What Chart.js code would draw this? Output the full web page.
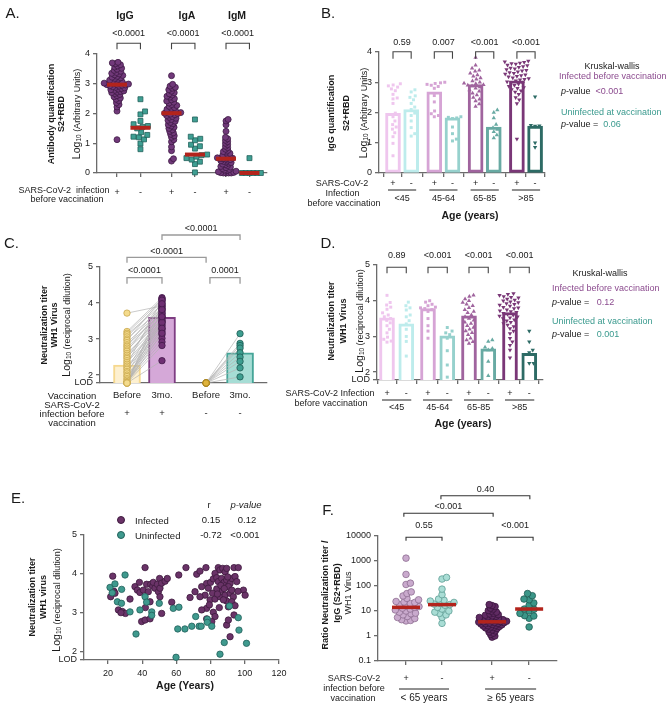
<!DOCTYPE html>
<html>
<head>
<meta charset="utf-8">
<script src="https://cdn.jsdelivr.net/npm/chart.js@4.4.1/dist/chart.umd.min.js"></script>
<style>
  html, body { margin: 0; padding: 0; background: #fff; }
  body { position: relative; width: 666px; height: 704px; overflow: hidden;
         font-family: "Liberation Sans", Arial, sans-serif; color: #1a1a1a; }
  canvas { position: absolute; }
  .t { position: absolute; white-space: nowrap; font-size: 9px; line-height: 1; transform: translate(-50%, -50%); }
  .b { font-weight: bold; }
  .l { transform: translate(0, -50%); }
  .yt { transform: translate(-50%, -50%) rotate(-90deg); }
  .letter { font-size: 15px; }
  .big { font-size: 10.5px; }
  .m { font-size: 9.5px; }
  .lg { font-size: 9px; }
  .pu { color: #8b4a8e; }
  .te { color: #3a9a8e; }
  sub { font-size: 6.5px; vertical-align: -1px; line-height: 0; }
  .dot { display: inline-block; width: 6px; height: 6px; border-radius: 50%; }
</style>
</head>
<body>
<canvas id="cA"></canvas>
<canvas id="cB"></canvas>
<canvas id="cC"></canvas>
<canvas id="cD"></canvas>
<canvas id="cE"></canvas>
<canvas id="cF"></canvas>
<script>
// ---------------- data ----------------
// A: antibody quantification, log10 AU
const signsA = ['+', '-', '+', '-', '+', '-'];
const pA = ['<0.0001', '<0.0001', '<0.0001'];
const iggPos = [3.72, 3.7, 3.67, 3.64, 3.6, 3.56, 3.52, 3.49, 3.45, 3.42, 3.38, 3.35, 3.33, 3.3, 3.28, 3.25, 3.22, 3.2, 3.18,
  3.15, 3.12, 3.1, 3.08, 3.06, 3.04, 3.02, 3.0, 2.99, 2.98, 2.97, 2.96, 2.95, 2.93, 2.92, 2.9, 2.88, 2.86, 2.84, 2.82, 2.8,
  2.78, 2.76, 2.74, 2.72, 2.7, 2.67, 2.64, 2.6, 2.56, 2.52, 2.48, 2.43, 2.36, 2.3, 2.22, 2.08, 1.12];
const iggNeg = [2.48, 2.07, 1.97, 1.75, 1.64, 1.58, 1.55, 1.5, 1.37, 1.28, 1.22, 1.2, 1.13, 0.99, 0.8];
const igaPos = [3.27, 2.98, 2.92, 2.88, 2.85, 2.8, 2.75, 2.7, 2.66, 2.62, 2.58, 2.55, 2.5, 2.46, 2.42, 2.38, 2.35, 2.3, 2.27,
  2.24, 2.2, 2.17, 2.14, 2.1, 2.08, 2.05, 2.03, 2.01, 2.0, 1.98, 1.96, 1.93, 1.9, 1.87, 1.84, 1.8, 1.77, 1.74, 1.7, 1.66,
  1.62, 1.58, 1.54, 1.5, 1.45, 1.4, 1.35, 1.3, 1.25, 1.2, 1.12, 1.05, 0.88, 0.75, 0.48, 0.4];
const igaNeg = [1.8, 1.22, 1.15, 1.1, 0.95, 0.9, 0.82, 0.62, 0.6, 0.55, 0.5, 0.45, 0.38, 0.3, 0.02];
const igmPos = [1.8, 1.75, 1.62, 1.4, 1.2, 1.15, 1.1, 1.05, 1.0, 0.95, 0.9, 0.85, 0.8, 0.76, 0.72, 0.7, 0.66, 0.63, 0.6,
  0.58, 0.55, 0.53, 0.51, 0.5, 0.49, 0.48, 0.47, 0.45, 0.43, 0.41, 0.39, 0.37, 0.35, 0.33, 0.3, 0.28, 0.25, 0.22, 0.2,
  0.18, 0.15, 0.12, 0.1, 0.08, 0.06, 0.04, 0.02, 0.01, 0, 0, 0, 0];
const igmNeg = [0.5, 0, 0, 0, 0, 0, 0];
const mediansA = [2.97, 1.52, 2.01, 0.62, 0.48, 0.0];

// B: IgG by age group
const agesB = ['<45', '45-64', '65-85', '>85'];
const signsB = ['+', '-', '+', '-', '+', '-', '+', '-'];
const pB = ['0.59', '0.007', '<0.001', '<0.001'];
const barsB = [1.97, 2.1, 2.68, 1.82, 2.92, 1.52, 3.05, 1.55];
const b45p = [2.95, 2.91, 2.88, 2.84, 2.78, 2.72, 2.6, 2.48, 2.45, 2.3, 1.98, 1.86, 1.72, 1.6, 1.52, 1.45, 1.33, 1.2, 0.98, 0.57];
const b45n = [2.75, 2.68, 2.55, 2.5, 2.42, 2.3, 2.18, 2.1, 1.98, 1.9, 1.72, 1.5, 1.3, 1.22];
const b4564p = [3.0, 2.98, 2.96, 2.93, 2.9, 2.86, 2.8, 2.56, 2.35, 2.05, 1.96, 1.9, 1.86];
const b4564n = [1.86, 1.84, 1.82, 1.8, 1.52, 1.3, 1.12, 1.06];
const b6585p = [3.82, 3.56, 3.46, 3.4, 3.36, 3.3, 3.24, 3.2, 3.14, 3.1, 3.04, 3.0, 2.97, 2.95, 2.92, 2.9, 2.88, 2.84,
  2.8, 2.74, 2.7, 2.64, 2.58, 2.5, 2.44, 2.38, 2.28, 2.2];
const b6585n = [2.08, 2.0, 1.82, 1.6, 1.5, 1.44, 1.36, 1.26, 1.16];
const b85p = [3.7, 3.68, 3.66, 3.64, 3.62, 3.6, 3.57, 3.55, 3.52, 3.5, 3.47, 3.45, 3.42, 3.4, 3.38, 3.35, 3.32, 3.3, 3.27,
  3.25, 3.22, 3.2, 3.18, 3.15, 3.12, 3.1, 3.08, 3.05, 3.02, 3.0, 2.97, 2.94, 2.9, 2.87, 2.83, 2.8, 2.76, 2.72, 2.68, 2.6,
  2.5, 2.42, 2.3, 1.12];
const b85n = [2.52, 1.58, 1.56, 1.55, 1.0, 0.85];

// C: paired neutralization before / 3 months
const cTicks = ['Before', '3mo.', 'Before', '3mo.'];
const cSigns = ['+', '+', '-', '-'];
const pC = ['<0.0001', '0.0001', '<0.0001', '<0.0001'];
const barsC = [2.28, 3.6, null, 2.62];
const beforePos = [3.72, 3.21, 3.16, 3.12, 3.06, 3.0, 2.96, 2.9, 2.84, 2.8, 2.75, 2.7, 2.66, 2.6, 2.55, 2.5, 2.46, 2.4,
  2.35, 2.3, 2.25, 2.2, 2.16, 2.1, 2.06, 2.0, 1.96, 1.9, 1.86, 1.82, 1.78, 1.78, 1.78, 1.78, 1.78, 1.78, 1.78, 1.78];
const afterPos = [3.92, 4.15, 4.1, 3.95, 4.05, 3.86, 4.12, 3.8, 3.7, 4.0, 3.76, 3.62, 3.9, 3.55, 3.66, 3.5, 3.84, 3.45,
  3.4, 4.08, 3.36, 3.3, 3.72, 3.26, 3.6, 3.2, 3.12, 3.5, 3.02, 2.92, 3.82, 2.82, 3.46, 3.62, 2.4, 3.3, 3.98, 3.16];
const beforeNeg = [1.78, 1.78, 1.78, 1.78, 1.78, 1.78, 1.78, 1.78, 1.78];
const afterNeg = [3.15, 2.88, 2.82, 2.75, 2.62, 2.5, 2.38, 2.2, 1.95];

// D: neutralization by age group
const pD = ['0.89', '<0.001', '<0.001', '<0.001'];
const barsD = [3.52, 3.35, 3.78, 3.02, 3.58, 2.65, 3.67, 2.53];
const d45p = [4.15, 3.95, 3.88, 3.82, 3.76, 3.66, 3.6, 3.55, 3.5, 3.45, 3.38, 3.3, 3.2, 3.1, 2.98, 2.92, 2.87, 2.84];
const d45n = [3.96, 3.86, 3.8, 3.74, 3.6, 3.55, 3.44, 3.35, 3.2, 3.0, 2.86, 2.45];
const d4564p = [4.0, 3.96, 3.9, 3.86, 3.82, 3.8, 3.78, 3.75, 3.7, 3.5, 3.3, 3.15, 2.95];
const d4564n = [3.25, 3.15, 3.1, 3.05, 2.95, 2.6, 2.2, 1.86];
const d6585p = [4.15, 4.12, 4.05, 4.0, 3.95, 3.9, 3.86, 3.8, 3.75, 3.7, 3.66, 3.6, 3.55, 3.5, 3.45, 3.4, 3.36, 3.3,
  3.25, 3.2, 3.15, 3.1, 3.05, 2.95, 2.9, 2.85, 2.8];
const d6585n = [2.9, 2.86, 2.7, 2.66, 2.62, 2.3, 1.9];
const d85p = [4.2, 4.18, 4.15, 4.12, 4.1, 4.08, 4.05, 4.02, 4.0, 3.97, 3.95, 3.92, 3.9, 3.88, 3.85, 3.82, 3.8, 3.78,
  3.75, 3.72, 3.7, 3.68, 3.65, 3.62, 3.6, 3.57, 3.55, 3.52, 3.5, 3.47, 3.44, 3.4, 3.36, 3.32, 3.28, 3.22, 3.15, 3.08,
  2.95, 2.85, 2.75, 2.62, 2.4];
const d85n = [3.15, 2.85, 2.62, 2.55, 2.25, 2.25];

// shared y ticks for neutralization panels
const lodTicks = [1.78, 2, 3, 4, 5];
const lodLabels = ['LOD', '2', '3', '4', '5'];

// E: age vs neutralization [age, log10 titer]
const ageTicks = [20, 40, 60, 80, 100, 120];
const infected = [[22.8, 3.94], [21.6, 3.41], [23.5, 3.55], [24.1, 3.5], [26.1, 3.07], [28.4, 3.03], [30.2, 2.98],
  [32.9, 3.35], [27.6, 3.0], [35.8, 3.67], [37.2, 3.58], [38.4, 3.78], [38.7, 3.52], [39.7, 2.77], [40.7, 3.58],
  [41.7, 4.16], [41.7, 2.81], [41.9, 3.13], [42.6, 3.73], [43.6, 3.54], [44.6, 3.28], [44.6, 2.84], [45, 3.73],
  [46.2, 3.68], [46.5, 3.78], [47.5, 3.63], [48.9, 3.73], [49.5, 3.54], [50.2, 3.88], [50.4, 3.63], [50.4, 3.41],
  [51.4, 3.76], [51.4, 2.98], [53.4, 3.81], [54.7, 3.88], [57.3, 3.27], [61.4, 3.97], [65.6, 4.16], [68, 3.39],
  [70.9, 3.54], [71.9, 3.99], [73.8, 4.07], [77.3, 4.16], [74.8, 3.67], [77.7, 3.75], [78.7, 3.63], [80, 3.78],
  [81.6, 3.87], [82.6, 4.01], [84.5, 4.16], [85.5, 4.1], [87.1, 4.14], [88.5, 4.05], [89.4, 4.14], [93.7, 4.16],
  [96.2, 4.16], [83.6, 3.9], [84.5, 3.8], [86.5, 3.88], [87.9, 3.78], [89.4, 3.84], [91.4, 3.75], [92.4, 3.88],
  [94.3, 3.93], [95.3, 3.8], [90.4, 3.67], [86.5, 3.58], [83.6, 3.61], [81.2, 3.5], [76.8, 3.45], [73.8, 3.41],
  [79.7, 3.33], [82.6, 3.35], [85.5, 3.41], [88.5, 3.45], [91.4, 3.5], [93.3, 3.41], [89.4, 3.3], [92.4, 3.28],
  [94.3, 3.18], [90.4, 3.15], [85.1, 3.13], [81.6, 3.01], [77.7, 3.11], [74.8, 3.07], [82.6, 2.9], [77.7, 2.84],
  [80.7, 2.77], [89.4, 2.68], [90.4, 2.81], [93.7, 2.94], [91.4, 2.38], [99.2, 3.58], [100.2, 3.45], [92.4, 3.58],
  [87.5, 3.33], [79.3, 3.2], [86, 3.7], [88, 3.62], [90, 3.92], [84, 3.48], [96, 3.55]];
const uninfected = [[21.2, 3.65], [24.1, 3.74], [22.5, 3.51], [30, 3.97], [28, 3.6], [25.5, 3.28], [27.9, 3.24],
  [32.9, 3.02], [36.4, 2.45], [38.7, 3.07], [41.7, 3.41], [42.6, 3.27], [45.6, 3.02], [45.6, 2.93], [50, 3.24],
  [58.2, 3.11], [61.5, 3.14], [60.8, 2.58], [65, 2.58], [59.8, 1.85], [69, 2.65], [71.3, 2.9], [73.3, 2.65],
  [74.5, 2.65], [78.1, 2.83], [78.1, 2.75], [80.7, 2.65], [85.5, 1.93], [88, 2.23], [91, 3.17], [96.2, 2.87],
  [96.6, 2.55], [101, 2.21]];

// F: ratio neutralization / IgG
const signsF = ['+', '-', '+', '-'];
const groupsF = ['< 65 years', '≥ 65 years'];
const pF = ['0.55', '<0.001', '<0.001', '0.40'];
const fTicks = [0.1, 1, 10, 100, 1000, 10000];
const fTickLabels = ['0.1', '1', '10', '100', '1000', '10000'];
const f65p = [1300, 290, 130, 115, 58, 50, 40, 32, 28, 24, 23, 22, 20, 18, 16, 15, 14, 13, 12, 11, 10, 9, 8.2, 7.8,
  7, 6, 5.5, 5, 4.5, 4.2, 4];
const f65n = [220, 190, 75, 45, 30, 27, 25, 22, 20, 19, 18, 17, 14, 12, 10, 9, 8, 7, 5.5, 3.2];
const fo65p = [18, 16.5, 15, 13, 12, 10.5, 9.8, 9, 8.2, 7.6, 7.2, 6.8, 6.4, 6.1, 5.8, 5.5, 5.3, 5.1, 4.9, 4.7, 4.5,
  4.4, 4.2, 4.1, 4.0, 3.9, 3.8, 3.7, 3.6, 3.5, 3.4, 3.3, 3.2, 3.1, 3.0, 2.9, 2.8, 2.7, 2.6, 2.5, 2.4, 2.3, 2.2, 2.1,
  2.0, 1.9, 1.75, 1.6, 1.45, 1.3, 1.15, 1.0, 0.9];
const fo65n = [50, 41, 30, 28, 21, 17, 12, 11.7, 10, 8, 6.5, 6.3, 5.1, 2.3];
const mediansF = [14, 18, 3.7, 12];

// ---------------- layout ----------------
const AXIS = '#6b6b6b', RED = '#b3241c';
const PURP = '#71397a', PURP_D = '#3f1b45', TEAL = '#3f9f93', TEAL_D = '#21615a';
const PINK = ['#efc6ee', '#d6a4d5', '#a0649e', '#7a3777'];
const CYAN = ['#bdecec', '#96d1cd', '#68aaa3', '#2d6b65'];

const PA = { box: [0, 0, 330, 230], area: [97, 54, 267, 173], x: [-0.367, 2.752], y: [0, 4] };
const PB = { box: [330, 0, 336, 230], area: [379, 52, 545, 173], x: [-0.339, 3.68], y: [0, 4] };
const PC = { box: [0, 205, 330, 265], area: [100, 267, 267, 383], x: [-0.771, 4.0], y: [1.78, 5] };
const PD = { box: [330, 230, 336, 240], area: [377, 265, 543, 380], x: [-0.244, 3.805], y: [1.78, 5] };
const PE = { box: [0, 480, 330, 224], area: [84, 535, 279, 660], x: [6, 120], y: [1.78, 5] };
const PF = { box: [330, 480, 336, 224], area: [378, 536, 557, 661], x: [-0.778, 4.194], y: [0.1, 10000] };
const slotsA = [0, 0.43, 1, 1.43, 2, 2.43];
const slotsB = [0, 0.44, 1, 1.44, 2, 2.44, 3, 3.44];
const slotsC = [0, 1, 2.26, 3.23];
const slotsD = [0, 0.47, 1, 1.47, 2, 2.47, 3, 3.47];
const slotsF = [0, 1, 2.39, 3.42];

Chart.defaults.font.family = '"Liberation Sans", Arial, sans-serif';
Chart.defaults.font.size = 9;
Chart.defaults.color = '#1a1a1a';

function scaleOf(p) {
  return [(p.area[2] - p.area[0]) / (p.x[1] - p.x[0]), (p.area[3] - p.area[1]) / (p.y[1] - p.y[0])];
}

// simple beeswarm: spreads points sideways so they do not overlap more than d px
function swarm(vals, cx, kx, ky, d, f) {
  f = f || (v => v);
  const placed = [];
  vals.slice().sort((a, b) => a - b).forEach(v => {
    const py = f(v) * ky;
    const near = placed.filter(p => Math.abs(p.py - py) < d);
    const cands = [0];
    near.forEach(p => {
      const dx = Math.sqrt(d * d - (p.py - py) ** 2);
      cands.push(p.px + dx, p.px - dx);
    });
    cands.sort((a, b) => Math.abs(a) - Math.abs(b));
    let px = cands.find(c => near.every(p => (p.px - c) ** 2 + (p.py - py) ** 2 >= d * d - 1e-6));
    if (px === undefined) px = 0;
    placed.push({ px, py, v });
  });
  return placed.map(p => ({ x: cx + p.px / kx, y: p.v }));
}

function column(vals, cx) { return vals.map(v => ({ x: cx, y: v })); }

function dots(points, fill, stroke, r, style, extra) {
  return Object.assign({
    type: 'scatter', data: points, pointBackgroundColor: fill, pointBorderColor: stroke,
    pointBorderWidth: 0.8, pointRadius: r, pointStyle: style || 'circle', clip: false, order: 1
  }, extra || {});
}

function medians(slots, meds, half, w) {
  return {
    type: 'scatter', data: slots.map((x, i) => ({ x, y: meds[i] })), pointStyle: 'line',
    pointRadius: half, pointBorderColor: RED, pointBorderWidth: w, clip: false, order: 0
  };
}

function bars(slots, vals, fills, borders, thick, bw) {
  return {
    type: 'bar', data: slots.map((x, i) => ({ x, y: vals[i] })), backgroundColor: fills,
    borderColor: borders, borderWidth: bw, borderSkipped: false, barThickness: thick, order: 3
  };
}

function baseAxis(extra) {
  const a = {
    border: { color: AXIS, width: 1.3 },
    grid: { drawOnChartArea: false, color: AXIS, lineWidth: 1.3, tickLength: 4 },
    ticks: { color: '#1a1a1a', font: { size: 9 }, autoSkip: false, maxRotation: 0, minRotation: 0, padding: 3 }
  };
  for (const k in extra) {
    const v = extra[k];
    a[k] = (v && typeof v === 'object' && !Array.isArray(v) && a[k]) ? Object.assign({}, a[k], v) : v;
  }
  return a;
}

const slotTicks = slots => s => { s.ticks = slots.map(v => ({ value: v })); };

const marksPlugin = {
  id: 'marks',
  afterDraw(chart, args, o) {
    const ctx = chart.ctx, xs = chart.scales.x, oy = o.oy;
    ctx.save();
    ctx.textAlign = 'center';
    ctx.textBaseline = 'middle';
    ctx.font = '9px "Liberation Sans", Arial, sans-serif';
    (o.brackets || []).forEach(k => {
      const x1 = xs.getPixelForValue(k.a), x2 = xs.getPixelForValue(k.b), y = k.y - oy;
      ctx.strokeStyle = o.color || '#444';
      ctx.lineWidth = o.lw || 1.1;
      ctx.beginPath();
      ctx.moveTo(x1, y + k.d); ctx.lineTo(x1, y); ctx.lineTo(x2, y); ctx.lineTo(x2, y + k.d);
      ctx.stroke();
      ctx.fillStyle = '#1a1a1a';
      ctx.fillText(k.t, (x1 + x2) / 2, k.ly - oy);
    });
    (o.groups || []).forEach(g => {
      const x1 = xs.getPixelForValue(g.a) - g.e, x2 = xs.getPixelForValue(g.b) + g.e, y = g.y - oy;
      ctx.strokeStyle = '#222';
      ctx.lineWidth = 1;
      ctx.beginPath(); ctx.moveTo(x1, y); ctx.lineTo(x2, y); ctx.stroke();
      ctx.fillStyle = '#1a1a1a';
      ctx.font = (g.size || 9) + 'px "Liberation Sans", Arial, sans-serif';
      ctx.fillText(g.t, (x1 + x2) / 2, g.ly - oy);
    });
    ctx.restore();
  }
};

function makeChart(id, p, datasets, xAxis, yAxis, marks) {
  const [bx, by, bw, bh] = p.box, [l, t, r, b] = p.area;
  const cv = document.getElementById(id);
  cv.width = bw; cv.height = bh;
  cv.style.left = bx + 'px'; cv.style.top = by + 'px';
  xAxis.afterFit = s => { s.height = by + bh - b; };
  yAxis.afterFit = s => { s.width = l - bx; };
  return new Chart(cv, {
    type: 'scatter',
    data: { datasets },
    options: {
      responsive: false, animation: false, events: [], devicePixelRatio: 1,
      layout: { padding: { left: 0, top: t - by, right: bx + bw - r, bottom: 0 } },
      plugins: { legend: { display: false }, tooltip: { enabled: false }, marks: Object.assign({ oy: by }, marks) },
      scales: { x: xAxis, y: yAxis }
    },
    plugins: [marksPlugin]
  });
}

// ---------------- A ----------------
(function () {
  const [kx, ky] = scaleOf(PA);
  const vals = [iggPos, iggNeg, igaPos, igaNeg, igmPos, igmNeg];
  const spread = [3.1, 5.5, 3.1, 5.5, 2.6, 3.8];
  const ds = vals.map((v, i) => i % 2
    ? dots(swarm(v, slotsA[i], kx, ky, spread[i]), TEAL, TEAL_D, 3.5, 'rect')
    : dots(swarm(v, slotsA[i], kx, ky, spread[i]), PURP, PURP_D, 3.0, 'circle'));
  ds.push(medians(slotsA, mediansA, 10, 4));
  makeChart('cA', PA, ds,
    baseAxis({ type: 'linear', min: PA.x[0], max: PA.x[1], offset: false, afterBuildTicks: slotTicks(slotsA),
      ticks: { padding: 10, callback: (v, i) => signsA[i] } }),
    baseAxis({ type: 'linear', min: 0, max: 4, ticks: { stepSize: 1 } }),
    { brackets: pA.map((t, g) => ({ a: slotsA[2 * g], b: slotsA[2 * g + 1], y: 43.3, d: 6, t, ly: 34 })) });
})();

// ---------------- B ----------------
(function () {
  const [kx, ky] = scaleOf(PB);
  const vals = [b45p, b45n, b4564p, b4564n, b6585p, b6585n, b85p, b85n];
  const shapes = ['rect', 'rect', 'triangle', 'triangle'];
  const cols = slotsB.map((_, i) => i % 2 ? CYAN[i >> 1] : PINK[i >> 1]);
  const ds = vals.map((v, i) => {
    const g = i >> 1;
    return dots(swarm(v, slotsB[i], kx, ky, 4.3), cols[i], cols[i], g > 1 ? 2.5 : 2.1, shapes[g],
      { pointBorderWidth: 0, pointRotation: g === 3 ? 180 : 0 });
  });
  ds.push(bars(slotsB, barsB, '#ffffff', cols, 15, 3));
  makeChart('cB', PB, ds,
    baseAxis({ type: 'linear', min: PB.x[0], max: PB.x[1], offset: false, afterBuildTicks: slotTicks(slotsB),
      ticks: { padding: 1.5, callback: (v, i) => signsB[i] } }),
    baseAxis({ type: 'linear', min: 0, max: 4, ticks: { stepSize: 1 } }),
    { brackets: pB.map((t, g) => ({ a: slotsB[2 * g], b: slotsB[2 * g + 1], y: 51.7, d: 7, t, ly: 43 })),
      groups: agesB.map((t, g) => ({ a: slotsB[2 * g], b: slotsB[2 * g + 1], e: 5, y: 190, t, ly: 198.5 })) });
})();

// ---------------- C ----------------
(function () {
  const segs = [];
  beforePos.forEach((v, i) => segs.push({ x: slotsC[0], y: v }, { x: slotsC[1], y: afterPos[i] }, { x: slotsC[1], y: null }));
  afterNeg.forEach((v, i) => segs.push({ x: slotsC[2], y: beforeNeg[i] }, { x: slotsC[3], y: v }, { x: slotsC[3], y: null }));
  const ds = [
    dots(column(beforePos, slotsC[0]), '#f4db8c', '#c9a74c', 3.2),
    dots(column(afterPos, slotsC[1]), '#6e2f72', '#43194a', 3.2),
    dots(column(beforeNeg, slotsC[2]), '#e0b43c', '#a27d1e', 3.2),
    dots(column(afterNeg, slotsC[3]), '#3e9e90', '#1e5c54', 3.2),
    { type: 'line', data: segs, borderColor: '#b3b3b3', borderWidth: 0.7, pointRadius: 0, spanGaps: false, clip: false, order: 2 },
    bars(slotsC, barsC, ['#fdf0d0', '#d5a8d8', '#ffffff', '#a6ddd5'], ['#f6d88e', '#7e3d82', '#ffffff', '#46a598'], 27, 2)
  ];
  makeChart('cC', PC, ds,
    baseAxis({ type: 'linear', min: PC.x[0], max: PC.x[1], offset: false, afterBuildTicks: slotTicks(slotsC),
      grid: { drawTicks: false },
      ticks: { padding: 8.5, font: { size: 9.5, lineHeight: 0.9 }, callback: (v, i) => [cTicks[i], '', cSigns[i]] } }),
    baseAxis({ type: 'linear', min: PC.y[0], max: PC.y[1], afterBuildTicks: slotTicks(lodTicks),
      ticks: { callback: (v, i) => lodLabels[i] } }),
    { color: '#9a9a9a', lw: 1.3, brackets: [
      { a: slotsC[0], b: slotsC[1], y: 277.7, d: 6, t: pC[0], ly: 270.5 },
      { a: slotsC[2] + 0.11, b: slotsC[3], y: 277.7, d: 6, t: pC[1], ly: 270.5 },
      { a: slotsC[0], b: slotsC[2], y: 257.3, d: 5.5, t: pC[2], ly: 251.5 },
      { a: slotsC[1], b: slotsC[3], y: 235, d: 5, t: pC[3], ly: 228.5 }] });
})();

// ---------------- D ----------------
(function () {
  const [kx, ky] = scaleOf(PD);
  const vals = [d45p, d45n, d4564p, d4564n, d6585p, d6585n, d85p, d85n];
  const shapes = ['rect', 'rect', 'triangle', 'triangle'];
  const cols = slotsD.map((_, i) => i % 2 ? CYAN[i >> 1] : PINK[i >> 1]);
  const ds = vals.map((v, i) => {
    const g = i >> 1;
    return dots(swarm(v, slotsD[i], kx, ky, 4.3), cols[i], cols[i], g > 1 ? 2.5 : 2.1, shapes[g],
      { pointBorderWidth: 0, pointRotation: g === 3 ? 180 : 0 });
  });
  ds.push(bars(slotsD, barsD, '#ffffff', cols, 15, 3));
  makeChart('cD', PD, ds,
    baseAxis({ type: 'linear', min: PD.x[0], max: PD.x[1], offset: false, afterBuildTicks: slotTicks(slotsD),
      ticks: { padding: 4.5, callback: (v, i) => signsB[i] } }),
    baseAxis({ type: 'linear', min: PD.y[0], max: PD.y[1], afterBuildTicks: slotTicks(lodTicks),
      ticks: { callback: (v, i) => lodLabels[i] } }),
    { brackets: pD.map((t, g) => ({ a: slotsD[2 * g], b: slotsD[2 * g + 1], y: 267.3, d: 6, t, ly: 256 })),
      groups: agesB.map((t, g) => ({ a: slotsD[2 * g], b: slotsD[2 * g + 1], e: 5, y: 400, t, ly: 408 })) });
})();

// ---------------- E ----------------
(function () {
  const ds = [
    dots(uninfected.map(([a, v]) => ({ x: a, y: v })), '#3f9a8e', '#22605a', 3.2),
    dots(infected.map(([a, v]) => ({ x: a, y: v })), '#6a3368', '#3d1a3d', 3.2)
  ];
  makeChart('cE', PE, ds,
    baseAxis({ type: 'linear', min: PE.x[0], max: PE.x[1], afterBuildTicks: slotTicks(ageTicks), ticks: { padding: 4.5 } }),
    baseAxis({ type: 'linear', min: PE.y[0], max: PE.y[1], afterBuildTicks: slotTicks(lodTicks),
      ticks: { callback: (v, i) => lodLabels[i] } }),
    {});
})();

// ---------------- F ----------------
(function () {
  const kx = (PF.area[2] - PF.area[0]) / (PF.x[1] - PF.x[0]);
  const ky = (PF.area[3] - PF.area[1]) / 5;
  const vals = [f65p, f65n, fo65p, fo65n];
  const fills = ['#c9aacd', '#a9ddd5', '#5f2a62', '#3b9688'];
  const lines = ['#8e6f92', '#5f9e95', '#3a153d', '#1f5c53'];
  const spread = [4.6, 4.8, 3.0, 5.2];
  const ds = vals.map((v, i) => dots(swarm(v, slotsF[i], kx, ky, spread[i], Math.log10), fills[i], lines[i], 3.3));
  ds.push(medians(slotsF, mediansF, 14, 3.5));
  makeChart('cF', PF, ds,
    baseAxis({ type: 'linear', min: PF.x[0], max: PF.x[1], offset: false, afterBuildTicks: slotTicks(slotsF),
      ticks: { padding: 8.5, callback: (v, i) => signsF[i] } }),
    baseAxis({ type: 'logarithmic', min: PF.y[0], max: PF.y[1], afterBuildTicks: slotTicks(fTicks),
      ticks: { callback: (v, i) => fTickLabels[i] } }),
    { color: '#333', brackets: [
      { a: slotsF[0], b: slotsF[1], y: 537.3, d: 3.5, t: pF[0], ly: 526 },
      { a: 2.53, b: 3.53, y: 537.3, d: 3.5, t: pF[1], ly: 526 },
      { a: -0.06, b: 2.42, y: 513.3, d: 3.5, t: pF[2], ly: 507 },
      { a: 0.97, b: 3.44, y: 495.7, d: 3.5, t: pF[3], ly: 489.5 }],
      groups: groupsF.map((t, g) => ({ a: slotsF[2 * g], b: slotsF[2 * g + 1], e: 7, y: 689, t, ly: 698, size: 10 })) });
})();

// ---------------- text ----------------
const LOG_AU = '<span class="big">Log</span><sub>10</sub> (Arbitrary Units)';
const LOG_RD = '<span class="big">Log</span><sub>10</sub> (reciprocal dilution)';
const texts = [
  [12.5, 12, 'A.', 'letter'], [328, 12, 'B.', 'letter'], [11.5, 241.5, 'C.', 'letter'],
  [328, 241.5, 'D.', 'letter'], [18, 497, 'E.', 'letter'], [328, 509, 'F.', 'letter'],
  // A
  [125, 15, 'IgG', 'b big'], [187, 15, 'IgA', 'b big'], [237, 15, 'IgM', 'b big'],
  [50.7, 114, 'Antibody quantification', 'yt b'], [61, 114, 'S2+RBD', 'yt b'], [76, 114, LOG_AU, 'yt'],
  [64, 190, 'SARS-CoV-2&nbsp; infection', ''], [67, 199, 'before vaccination', ''],
  // B
  [330.5, 113, 'IgG quantification', 'yt b'], [346, 113, 'S2+RBD', 'yt b'], [363, 113, LOG_AU, 'yt'],
  [342, 183, 'SARS-CoV-2', ''], [342.5, 193, 'Infection', ''], [344, 203, 'before vaccination', ''],
  [470, 215, 'Age (years)', 'b big'],
  [612, 66, 'Kruskal-wallis', 'lg'],
  [559, 76, 'Infected before vaccination', 'l lg pu'],
  [561, 91, '<i>p</i>-value&nbsp;&nbsp;<span class="pu">&lt;0.001</span>', 'l lg'],
  [561, 112, 'Uninfected at vaccination', 'l lg te'],
  [561, 124, '<i>p</i>-value =&nbsp;&nbsp;<span class="te">0.06</span>', 'l lg'],
  // C
  [44, 325, 'Neutralization titer', 'yt b'], [54, 325, 'WH1 Virus', 'yt b'], [66, 325, LOG_RD, 'yt'],
  [72, 396, 'Vaccination', 'm'], [72, 405, 'SARS-CoV-2', 'm'], [72, 414, 'infection before', 'm'],
  [72, 423, 'vaccination', 'm'],
  // D
  [330.5, 321, 'Neutralization titer', 'yt b'], [343, 321, 'WH1 Virus', 'yt b'], [359, 321, LOG_RD, 'yt'],
  [330, 393, 'SARS-CoV-2 Infection', ''], [331, 403, 'before vaccination', ''],
  [463, 423, 'Age (years)', 'b big'],
  [600, 273, 'Kruskal-wallis', 'lg'],
  [552, 288, 'Infected before vaccination', 'l lg pu'],
  [552, 302, '<i>p</i>-value =&nbsp;&nbsp;&nbsp;<span class="pu">0.12</span>', 'l lg'],
  [552, 321, 'Uninfected at vaccination', 'l lg te'],
  [552, 334, '<i>p</i>-value =&nbsp;&nbsp;&nbsp;<span class="te">0.001</span>', 'l lg'],
  // E
  [31.7, 597, 'Neutralization titer', 'yt b'], [43.3, 597, 'WH1 virus', 'yt b'], [56, 600, LOG_RD, 'yt'],
  [185, 685, 'Age (Years)', 'b big'],
  [121, 521, '<span class="dot" style="background:#6a3368;border:0.8px solid #3d1a3d"></span>', ''],
  [121, 536, '<span class="dot" style="background:#3f9a8e;border:0.8px solid #22605a"></span>', ''],
  [135, 521, 'Infected', 'l m'], [135, 536, 'Uninfected', 'l m'],
  [209, 505, 'r', 'm'], [246, 505, '<i>p-value</i>', 'm'],
  [211, 520, '0.15', 'm'], [247, 520, '0.12', 'm'],
  [211, 535, '-0.72', 'm'], [245, 535, '&lt;0.001', 'm'],
  // F
  [325, 595, 'Ratio Neutralization titer /', 'yt b'], [337, 593, 'IgG (S2+RBD)', 'yt b'], [348, 593, 'WH1 Virus', 'yt'],
  [354, 678, 'SARS-CoV-2', ''], [354, 688, 'infection before', ''], [353, 698, 'vaccination', '']
];
texts.forEach(([x, y, html, cls]) => {
  const d = document.createElement('div');
  d.className = 't ' + cls;
  d.style.left = x + 'px';
  d.style.top = y + 'px';
  d.innerHTML = html;
  document.body.appendChild(d);
});
</script>
</body>
</html>
